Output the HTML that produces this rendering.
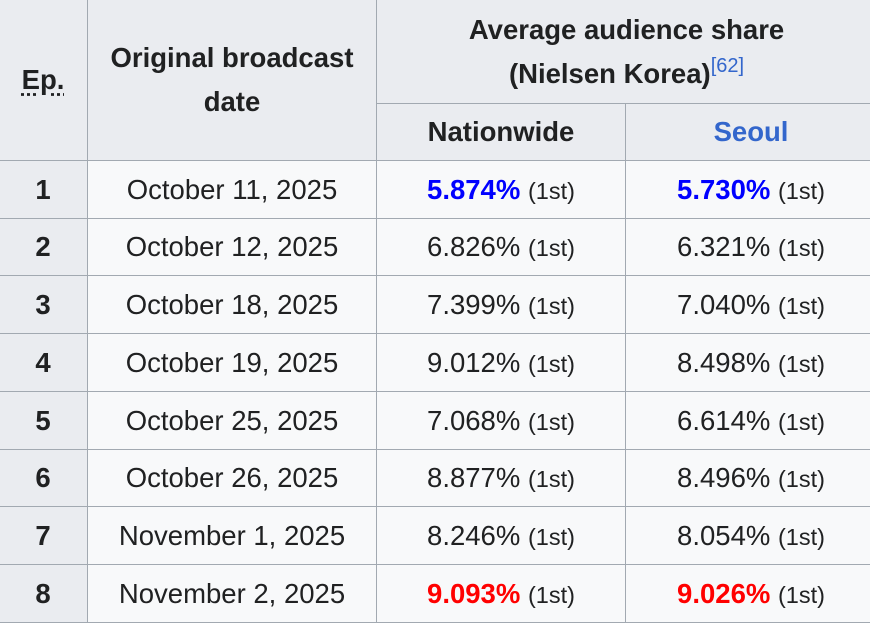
<!DOCTYPE html>
<html><head><meta charset="utf-8"><style>
html,body{margin:0;padding:0;background:#fff;width:870px;height:619px;overflow:hidden}
table{position:absolute;left:-2px;top:-1px;border-collapse:collapse;table-layout:fixed;width:878px;font-family:"Liberation Sans",Arial,sans-serif;font-size:27.5px;color:#202122}
td,th{border:1px solid #a2a9b1;text-align:center;padding:0;background:#f8f9fa;white-space:nowrap;overflow:hidden}
th{background:#eaecf0;font-weight:bold}
td{font-weight:normal}
.s{font-size:23.5px}
.b{color:#0000ff;font-weight:bold}
.r{color:#ff0000;font-weight:bold}
abbr{text-decoration:underline dotted;text-underline-offset:4px}
sup{font-size:20px;font-weight:normal;color:#3366cc;vertical-align:top;position:relative;top:-8px}
</style></head><body>
<table>
<colgroup><col style="width:89px"><col style="width:289px"><col style="width:249px"><col style="width:251px"></colgroup>
<tr style="height:104px"><th rowspan="2"><abbr>Ep.</abbr></th><th rowspan="2" style="line-height:44px">Original broadcast<br>date</th><th colspan="2" style="line-height:44px">Average audience share<br>(Nielsen Korea)<sup>[62]</sup></th></tr>
<tr style="height:57px"><th>Nationwide</th><th style="color:#3366cc">Seoul</th></tr>
<tr style="height:58px"><th>1</th><td>October 11, 2025</td><td><span class="b">5.874%</span> <span class="s">(1st)</span></td><td><span class="b">5.730%</span> <span class="s">(1st)</span></td></tr>
<tr style="height:57px"><th>2</th><td>October 12, 2025</td><td>6.826% <span class="s">(1st)</span></td><td>6.321% <span class="s">(1st)</span></td></tr>
<tr style="height:58px"><th>3</th><td>October 18, 2025</td><td>7.399% <span class="s">(1st)</span></td><td>7.040% <span class="s">(1st)</span></td></tr>
<tr style="height:58px"><th>4</th><td>October 19, 2025</td><td>9.012% <span class="s">(1st)</span></td><td>8.498% <span class="s">(1st)</span></td></tr>
<tr style="height:58px"><th>5</th><td>October 25, 2025</td><td>7.068% <span class="s">(1st)</span></td><td>6.614% <span class="s">(1st)</span></td></tr>
<tr style="height:57px"><th>6</th><td>October 26, 2025</td><td>8.877% <span class="s">(1st)</span></td><td>8.496% <span class="s">(1st)</span></td></tr>
<tr style="height:58px"><th>7</th><td>November 1, 2025</td><td>8.246% <span class="s">(1st)</span></td><td>8.054% <span class="s">(1st)</span></td></tr>
<tr style="height:58px"><th>8</th><td>November 2, 2025</td><td><span class="r">9.093%</span> <span class="s">(1st)</span></td><td><span class="r">9.026%</span> <span class="s">(1st)</span></td></tr>
</table>
</body></html>
